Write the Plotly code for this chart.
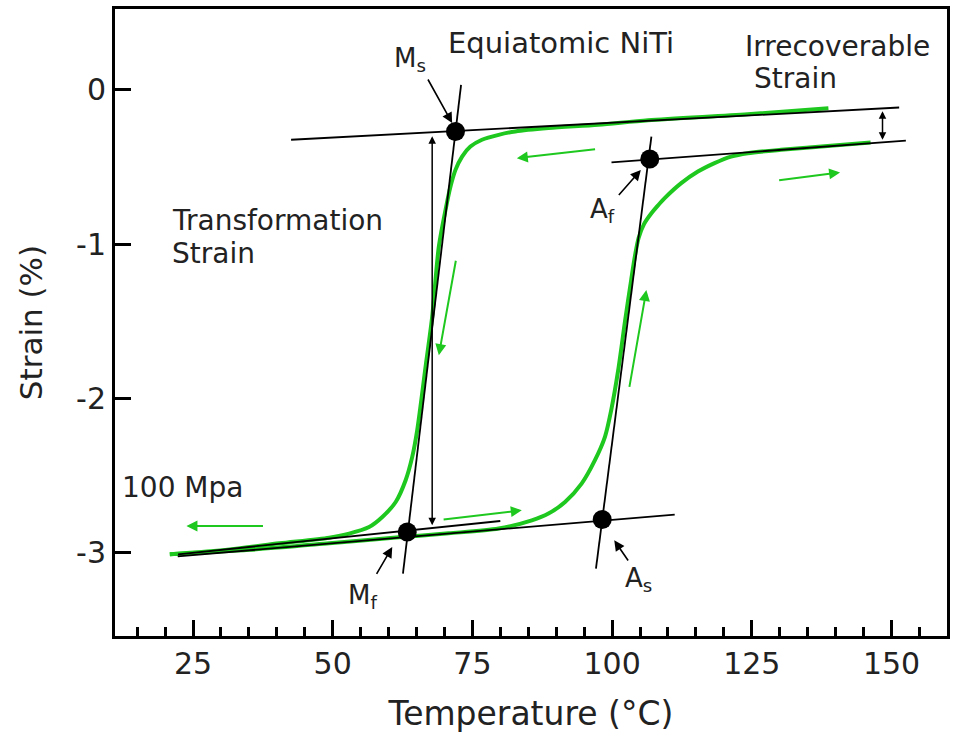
import plotly.graph_objects as go

# ---------------- data ----------------
# cooling branch (right -> left)
cool_T = [138.71, 124.27, 106.44, 97.52, 88.61, 82.67, 79.69, 76.71, 74.64, 73.15, 71.97, 71.08,
          70.19, 68.99, 67.80, 66.62, 65.12, 64.23, 63.05, 61.27, 58.88, 56.51, 52.94, 49.38,
          40.46, 31.54, 20.85]
cool_S = [-0.120, -0.159, -0.198, -0.227, -0.248, -0.270, -0.292, -0.324, -0.368, -0.433, -0.519, -0.627,
          -0.778, -1.016, -1.470, -1.794, -2.205, -2.378, -2.529, -2.670, -2.767, -2.832, -2.875, -2.901,
          -2.938, -2.977, -3.009]
# heating branch (left -> right)
heat_T = [20.85, 35.11, 49.38, 61.86, 70.77, 79.69, 85.63, 88.61, 91.58, 94.54, 96.93, 98.72,
          99.84, 101.09, 102.34, 103.41, 104.12, 104.74, 105.73, 107.03, 108.22, 109.41, 112.37,
          115.35, 118.33, 121.29, 124.27, 130.21, 139.12, 146.26]
heat_S = [-3.009, -2.980, -2.938, -2.899, -2.873, -2.842, -2.789, -2.745, -2.670, -2.551, -2.399, -2.248,
          -2.075, -1.816, -1.492, -1.232, -1.070, -0.960, -0.869, -0.800, -0.749, -0.702, -0.605,
          -0.530, -0.475, -0.433, -0.411, -0.389, -0.363, -0.342]

# tangent construction lines (start/end)
ms_tan_T, ms_tan_S = [42.55, 151.37], [-0.324, -0.115]
mf_tan_T, mf_tan_S = [22.33, 79.99], [-3.009, -2.793]
as_tan_T, as_tan_S = [22.27, 111.20], [-3.022, -2.752]
af_tan_T, af_tan_S = [99.89, 152.57], [-0.471, -0.329]
mart_steep_T, mart_steep_S = [72.97, 62.57], [0.032, -3.134]
aus_steep_T, aus_steep_S = [107.03, 97.11], [-0.303, -3.102]

# transformation temperatures
pt_names = ["Ms", "Mf", "As", "Af"]
pt_T = [71.97, 63.34, 98.23, 106.74]
pt_S = [-0.270, -2.864, -2.784, -0.449]

# labels and pointer arrows (tail -> head)
lab_text = ["M<sub>s</sub>", "M<sub>f</sub>", "A<sub>s</sub>", "A<sub>f</sub>"]
lab_T = [63.9, 55.3, 104.7, 98.3]
lab_S = [0.195, -3.28, -3.175, -0.785]
ptr_tail_T = [66.90, 57.70, 103.05, 100.97]
ptr_tail_S = [0.076, -3.145, -3.059, -0.692]
ptr_head_T = [71.37, 60.66, 100.38, 105.14]
ptr_head_S = [-0.216, -2.962, -2.918, -0.519]

# green direction arrows (tail -> head)
garr_tail_T = [97.22, 72.08, 37.79, 69.58, 103.05, 129.62]
garr_tail_S = [-0.385, -1.098, -2.826, -2.784, -1.934, -0.588]
garr_head_T = [82.95, 68.99, 23.82, 83.84, 106.13, 140.80]
garr_head_S = [-0.443, -1.719, -2.826, -2.724, -1.297, -0.536]

# double-headed strain arrows (x, y_top, y_bottom)
trans_arrow = (67.80, -0.292, -2.821)
irrec_arrow = (148.39, -0.130, -0.324)

x_ticks = [25, 50, 75, 100, 125, 150]
y_ticks = [0, -1, -2, -3]
y_ticktext = ["0", "-1", "-2", "-3"]

GREEN = "#1ec81e"
FONT = "DejaVu Sans"

fig = go.Figure()

fig.add_trace(go.Scatter(x=cool_T, y=cool_S, mode="lines",
                         line=dict(color=GREEN, width=4, shape="spline", smoothing=0.8)))
fig.add_trace(go.Scatter(x=heat_T, y=heat_S, mode="lines",
                         line=dict(color=GREEN, width=4, shape="spline", smoothing=0.8)))

for tx, ty in [(ms_tan_T, ms_tan_S), (mf_tan_T, mf_tan_S), (as_tan_T, as_tan_S),
               (af_tan_T, af_tan_S), (mart_steep_T, mart_steep_S), (aus_steep_T, aus_steep_S)]:
    fig.add_trace(go.Scatter(x=tx, y=ty, mode="lines", line=dict(color="black", width=1.8)))

fig.add_trace(go.Scatter(x=pt_T, y=pt_S, mode="markers", text=pt_names,
                         marker=dict(color="black", size=19)))

ann = []
for t, x, y in zip(lab_text, lab_T, lab_S):
    ann.append(dict(x=x, y=y, text=t, showarrow=False, font=dict(family=FONT, size=26, color="#222")))
for a, b, c, d in zip(ptr_tail_T, ptr_tail_S, ptr_head_T, ptr_head_S):
    ann.append(dict(x=c, y=d, ax=a, ay=b, axref="x", ayref="y", text="", showarrow=True,
                    arrowhead=2, arrowsize=1.3, arrowwidth=1.6, arrowcolor="black", standoff=0))
for a, b, c, d in zip(garr_tail_T, garr_tail_S, garr_head_T, garr_head_S):
    ann.append(dict(x=c, y=d, ax=a, ay=b, axref="x", ayref="y", text="", showarrow=True,
                    arrowhead=2, arrowsize=1.1, arrowwidth=2, arrowcolor=GREEN, standoff=0))
for (xx, y1, y2) in [trans_arrow, irrec_arrow]:
    ann.append(dict(x=xx, y=y2, ax=xx, ay=y1, axref="x", ayref="y", text="", showarrow=True,
                    arrowhead=2, arrowside="end+start", arrowsize=1.0, arrowwidth=1.5,
                    arrowcolor="black", standoff=0, startstandoff=0))

texts = [("Equiatomic NiTi", 70.2, 0.30, 29),
         ("Irrecoverable", 123.4, 0.28, 28),
         ("Strain", 125.0, 0.07, 28),
         ("Transformation", 20.85, -0.85, 28),
         ("Strain", 20.85, -1.06, 28),
         ("100 Mpa", 11.93, -2.575, 28)]
for t, x, y, s in texts:
    ann.append(dict(x=x, y=y, text=t, showarrow=False, xanchor="left",
                    font=dict(family=FONT, size=s, color="#222")))

fig.update_layout(
    width=953, height=742,
    margin=dict(l=115, r=3, t=9, b=106),
    paper_bgcolor="white", plot_bgcolor="white",
    showlegend=False,
    annotations=ann,
    font=dict(family=FONT, color="#222"),
)
fig.update_xaxes(range=[11.04, 159.93], tickvals=x_ticks, ticks="inside", ticklen=16, tickwidth=2.5,
                 tickcolor="black", showline=True, linecolor="black", linewidth=3, mirror=True,
                 showgrid=False, zeroline=False, tickfont=dict(family=FONT, size=30, color="#222"),
                 minor=dict(dtick=5, ticks="inside", ticklen=9, tickwidth=2.5, tickcolor="black"),
                 title=dict(text="Temperature (°C)", font=dict(family=FONT, size=33, color="#222"),
                            standoff=22))
fig.update_yaxes(range=[-3.538, 0.523], tickvals=y_ticks, ticktext=y_ticktext, ticks="inside",
                 ticklen=16, tickwidth=2.5, tickcolor="black", showline=True, linecolor="black",
                 linewidth=3, mirror=True, showgrid=False, zeroline=False,
                 tickfont=dict(family=FONT, size=30, color="#222"),
                 title=dict(text="Strain (%)", font=dict(family=FONT, size=31, color="#222"),
                            standoff=25))
# pull the x tick labels closer to the axis line
try:
    fig.update_xaxes(ticklabelstandoff=-1)
    fig.update_yaxes(ticklabelstandoff=0)
except ValueError:
    pass

fig.write_html("out.html")
